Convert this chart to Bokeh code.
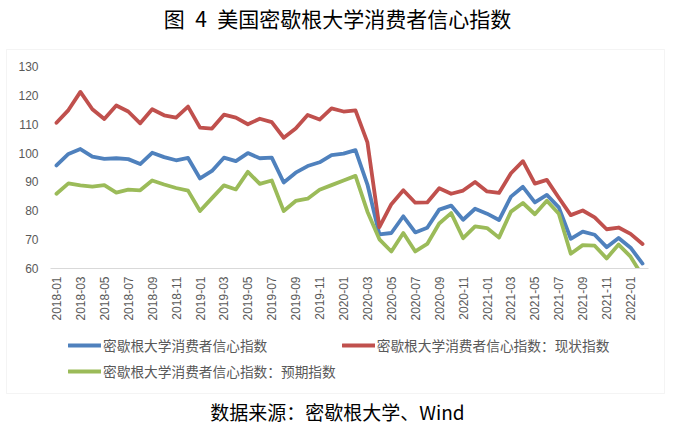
import math
from bokeh.plotting import figure
from bokeh.models import (Range1d, FixedTicker, Label, Legend, LegendItem, BoxAnnotation)
from bokeh.embed import file_html
from bokeh.resources import INLINE

months = []
for yr in range(2018, 2023):
    for m in range(1, 13):
        months.append(f"{yr}-{m:02d}")
months = months[:50]  # 2018-01 .. 2022-02

sentiment = [95.7, 99.7, 101.4, 98.8, 98.0, 98.2, 97.9, 96.2, 100.1, 98.6, 97.5, 98.3,
             91.2, 93.8, 98.4, 97.2, 100.0, 98.2, 98.4, 89.8, 93.2, 95.5, 96.8, 99.3,
             99.8, 101.0, 89.1, 71.8, 72.3, 78.1, 72.5, 74.1, 80.4, 81.8, 76.9, 80.7,
             79.0, 76.8, 84.9, 88.3, 82.9, 85.5, 81.2, 70.3, 72.8, 71.7, 67.4, 70.6,
             67.2, 61.7]
current = [110.5, 114.9, 121.2, 115.2, 111.8, 116.5, 114.4, 110.3, 115.2, 113.1, 112.3, 116.1,
           108.8, 108.5, 113.3, 112.3, 110.0, 111.9, 110.7, 105.3, 108.5, 113.2, 111.6, 115.5,
           114.4, 114.8, 103.7, 74.3, 82.3, 87.1, 82.8, 82.9, 87.8, 85.9, 87.0, 90.0,
           86.7, 86.2, 93.0, 97.2, 89.4, 90.7, 84.5, 78.5, 80.1, 77.7, 73.6, 74.2,
           72.0, 68.5]
expectations = [85.9, 89.5, 88.8, 88.4, 88.9, 86.3, 87.3, 87.1, 90.5, 89.1, 87.9, 87.0,
                79.9, 84.4, 88.8, 87.4, 93.5, 89.3, 90.5, 79.9, 83.4, 84.2, 87.3, 88.9,
                90.5, 92.1, 79.7, 70.1, 65.9, 72.3, 65.9, 68.5, 75.6, 79.2, 70.5, 74.6,
                74.0, 70.7, 79.7, 82.7, 78.8, 83.5, 79.0, 65.1, 68.1, 67.9, 63.5, 68.3,
                64.1, 57.4]

series_names = ["密歇根大学消费者信心指数",
                "密歇根大学消费者信心指数：现状指数",
                "密歇根大学消费者信心指数：预期指数"]
series_colors = ["#4F81BD", "#C0504D", "#9BBB59"]
y_ticks = [60, 70, 80, 90, 100, 110, 120, 130]
title_text = "图\u20024\u2002美国密歇根大学消费者信心指数"
source_text = "数据来源：密歇根大学、Wind"

# ---- layout (pixels) ----
W, H = 670, 425
PL, PR, PT, PB = 50, 648, 66, 268       # plot area edges on the canvas
n = len(months)
x0, x1 = -0.5, n - 0.5
y0, y1 = y_ticks[0], y_ticks[-1]
ux = (x1 - x0) / (PR - PL)
uy = (y1 - y0) / (PB - PT)

xs = list(range(n))

p = figure(width=W, height=H, output_backend="svg", toolbar_location=None,
           x_range=Range1d(x0 - PL * ux, x1 + (W - PR) * ux),
           y_range=Range1d(y0 - (H - PB) * uy, y1 + PT * uy),
           min_border_left=0, min_border_right=0, min_border_top=0, min_border_bottom=0)
p.outline_line_color = None
p.grid.visible = False
p.background_fill_color = "white"
p.border_fill_color = "white"

p.yaxis.fixed_location = x0
p.yaxis.ticker = FixedTicker(ticks=y_ticks)
p.yaxis.axis_line_color = None
p.yaxis.major_tick_line_color = None
p.yaxis.minor_tick_line_color = None
p.yaxis.major_tick_out = 0
p.yaxis.major_tick_in = 0
p.yaxis.major_label_standoff = 12
p.yaxis.major_label_text_font = "Liberation Sans"
p.yaxis.major_label_text_font_size = "12px"
p.yaxis.major_label_text_color = "#595959"

p.xaxis.fixed_location = y0
p.xaxis.bounds = (x0, x1)
p.xaxis.ticker = FixedTicker(ticks=xs[::2])
p.xaxis.major_label_overrides = {i: months[i] for i in xs[::2]}
p.xaxis.axis_line_color = "#d9d9d9"
p.xaxis.axis_line_width = 1
p.xaxis.major_tick_line_color = None
p.xaxis.minor_tick_line_color = None
p.xaxis.major_tick_out = 0
p.xaxis.major_tick_in = 0
p.xaxis.major_label_standoff = 8
p.xaxis.major_label_orientation = math.pi / 2
p.xaxis.major_label_text_font = "Liberation Sans"
p.xaxis.major_label_text_font_size = "12px"
p.xaxis.major_label_text_color = "#595959"

renderers = []
for vals, col in zip([sentiment, current, expectations], series_colors):
    r = p.line(xs, vals, line_color=col, line_width=3.8, line_join="round", line_cap="round")
    renderers.append(r)

# plot-area clipping below the lowest axis value (as the original chart does)
mask = BoxAnnotation(left=x0 - 1, right=x1 + 1, top=y0, bottom=y0 - 8,
                     fill_color="white", fill_alpha=1, line_color=None, level="glyph")
p.add_layout(mask)

# outer chart border
border = BoxAnnotation(left=6, right=664, top=H - 49, bottom=H - 393,
                       left_units="screen", right_units="screen",
                       top_units="screen", bottom_units="screen",
                       fill_alpha=0, line_color="#d9d9d9", line_width=1)
p.add_layout(border)

items = [LegendItem(label=nm, renderers=[r]) for nm, r in zip(series_names, renderers)]
legend = Legend(items=items, location=(68, H - 381), orientation="horizontal", ncols=2,
                glyph_width=33, glyph_height=20, label_height=20, label_width=231,
                spacing=6, padding=0, margin=0, label_standoff=2,
                label_text_font="Noto Sans CJK SC", label_text_font_size="13.7px",
                label_text_color="#595959", border_line_color=None,
                background_fill_alpha=0)
p.add_layout(legend, "center")

p.add_layout(Label(x=337, y=H - 17, x_units="screen", y_units="screen", text=title_text,
                   text_align="center", text_baseline="middle",
                   text_font="Noto Sans CJK SC", text_font_size="21px", text_color="#000000"))
p.add_layout(Label(x=337, y=H - 411, x_units="screen", y_units="screen", text=source_text,
                   text_align="center", text_baseline="middle",
                   text_font="Noto Sans CJK SC", text_font_size="19px", text_color="#000000"))

open("out.html", "w").write(file_html(p, INLINE))
